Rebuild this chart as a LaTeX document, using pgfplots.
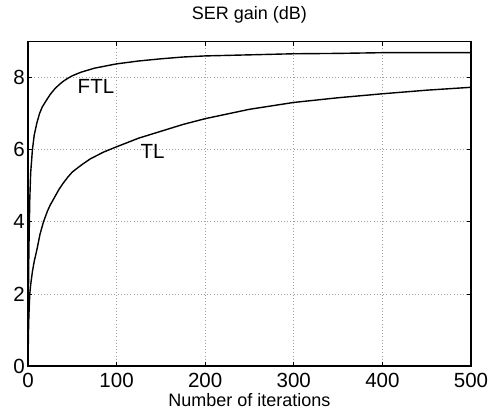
\documentclass[border=0pt]{standalone}
\usepackage{pgfplots}
\pgfplotsset{compat=1.18}
\usepackage{fontspec}
\setmainfont{Liberation Sans}

\begin{document}
\begin{tikzpicture}
\begin{axis}[
  scale only axis, width=443pt, height=324.5pt,
  xmin=0, xmax=500, ymin=0, ymax=9,
  xtick={0,100,...,500}, ytick={0,2,...,8},
  tick align=inside, major tick length=4pt,
  xmajorgrids, ymajorgrids,
  grid style={dash pattern=on 0.8pt off 2.4pt, gray!75, line width=0.6pt},
  axis line style={line width=1.1pt},
  every tick/.style={black, line width=0.6pt},
  /pgf/number format/assume math mode=true,
  tick label style={font=\fontsize{20.5}{24}\selectfont},
  xticklabel style={anchor=base, yshift=-22pt},
  yticklabel style={anchor=east, inner sep=0pt, xshift=-3pt},
  title={SER gain (dB)},
  title style={font=\fontsize{18}{21}\selectfont, at={(0.5,1)}, anchor=base, yshift=15.8pt},
  xlabel={Number of iterations},
  xlabel style={font=\fontsize{18}{21}\selectfont, at={(0.5,0)}, anchor=base, yshift=-40.7pt},
]
% FTL
\addplot[black, line width=1.4pt, line join=round] coordinates {
(0,0) (0.5,2.0) (1,3.2) (2,4.6) (3,5.35) (5,6.0) (7,6.4) (10,6.74) (13,7.0)
(16,7.18) (20,7.34) (25,7.53) (30,7.68) (35,7.8) (40,7.9) (45,7.98) (50,8.05)
(60,8.15) (75,8.26) (100,8.38) (125,8.46) (150,8.52) (175,8.57) (200,8.6)
(250,8.63) (300,8.66) (350,8.67) (400,8.69) (450,8.69) (500,8.69)};
% TL
\addplot[black, line width=1.4pt, line join=round] coordinates {
(0,0) (0.5,0.9) (1,1.4) (2,2.0) (3,2.25) (5,2.62) (7,2.9) (10,3.22) (13.5,3.65)
(17.5,4.0) (22,4.3) (25,4.46) (30,4.68) (35,4.9) (40,5.08) (45,5.24) (50,5.38)
(60,5.57) (70,5.74) (85,5.93) (100,6.08) (125,6.32) (150,6.51) (175,6.7)
(200,6.86) (250,7.12) (300,7.31) (350,7.44) (400,7.55) (450,7.65) (500,7.73)};
\node[font=\fontsize{20.5}{24}\selectfont] at (axis cs:76.7,7.75) {FTL};
\node[font=\fontsize{20.5}{24}\selectfont] at (axis cs:140.5,5.95) {TL};
\end{axis}
\pgfresetboundingbox
\useasboundingbox (-28pt,-44pt) rectangle (463pt,366pt);
\end{tikzpicture}
\end{document}
